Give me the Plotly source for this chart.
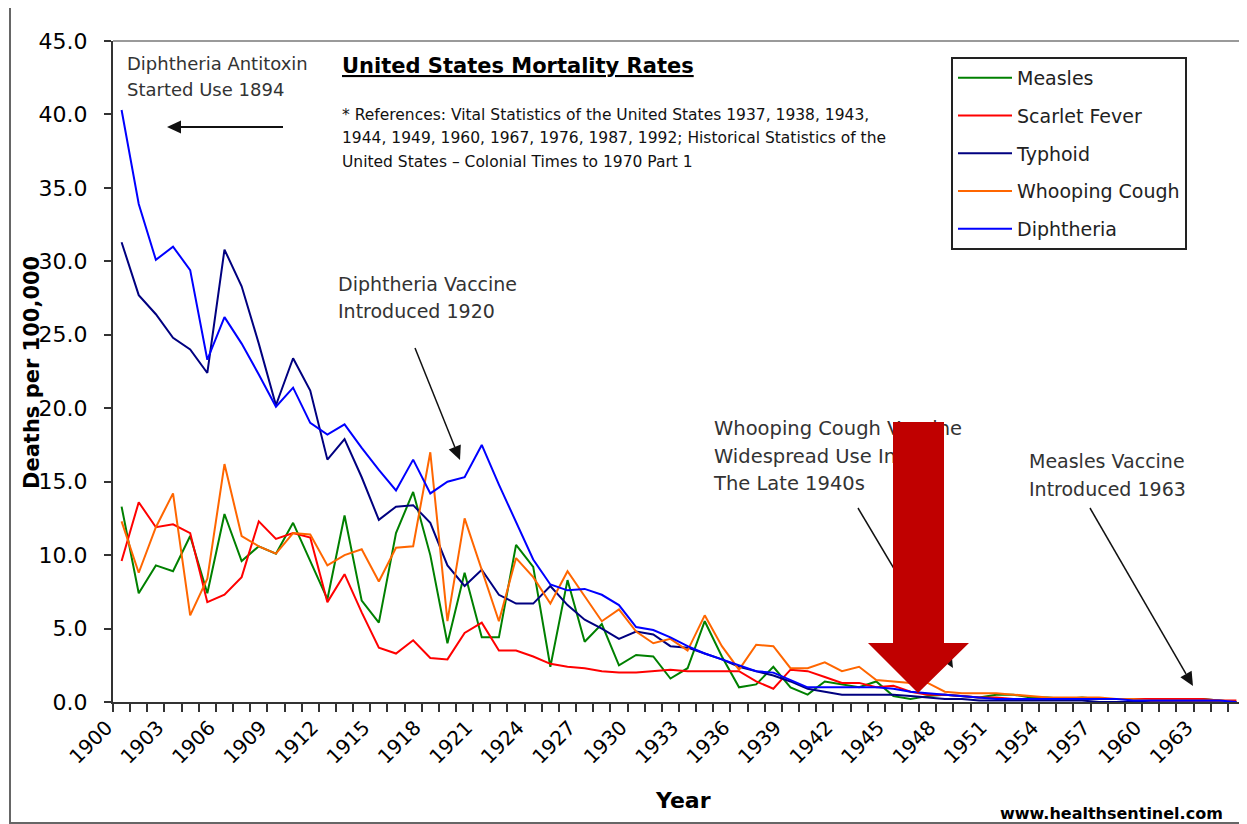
import math
import plotly.graph_objects as go

years = list(range(1900, 1966))

measles = [13.3, 7.4, 9.3, 8.9, 11.3, 7.4, 12.8, 9.6, 10.6, 10.1,
           12.2, 9.6, 7.0, 12.7, 6.9, 5.4, 11.5, 14.3, 10.0, 4.0,
           8.8, 4.4, 4.4, 10.7, 9.2, 2.4, 8.3, 4.1, 5.3, 2.5,
           3.2, 3.1, 1.6, 2.3, 5.5, 3.1, 1.0, 1.2, 2.4, 1.0,
           0.5, 1.4, 1.2, 1.0, 1.4, 0.4, 0.2, 0.4, 0.5, 0.4,
           0.3, 0.5, 0.5, 0.3, 0.3, 0.2, 0.3, 0.2, 0.2, 0.2,
           0.2, 0.2, 0.2, 0.2, 0.1, 0.0]

scarlet_fever = [9.6, 13.6, 11.9, 12.1, 11.5, 6.8, 7.3, 8.5, 12.3, 11.1,
                 11.5, 11.2, 6.8, 8.7, 6.1, 3.7, 3.3, 4.2, 3.0, 2.9,
                 4.7, 5.4, 3.5, 3.5, 3.1, 2.6, 2.4, 2.3, 2.1, 2.0,
                 2.0, 2.1, 2.2, 2.1, 2.1, 2.1, 2.1, 1.4, 0.9, 2.2,
                 2.1, 1.7, 1.3, 1.3, 1.0, 1.1, 0.7, 0.5, 0.5, 0.4,
                 0.3, 0.3, 0.2, 0.2, 0.2, 0.2, 0.2, 0.2, 0.2, 0.2,
                 0.2, 0.2, 0.2, 0.2, 0.1, 0.1]

typhoid = [31.3, 27.7, 26.4, 24.8, 24.0, 22.4, 30.8, 28.3, 24.4, 20.2,
           23.4, 21.2, 16.5, 17.9, 15.3, 12.4, 13.3, 13.4, 12.2, 9.3,
           7.9, 9.0, 7.3, 6.7, 6.7, 7.9, 6.6, 5.6, 5.0, 4.3,
           4.8, 4.6, 3.8, 3.7, 3.3, 2.9, 2.4, 2.1, 1.8, 1.4,
           0.9, 0.7, 0.5, 0.5, 0.5, 0.5, 0.4, 0.3, 0.2, 0.2,
           0.1, 0.1, 0.1, 0.1, 0.1, 0.1, 0.1, 0.0, 0.0, 0.0,
           0.0, 0.0, 0.0, 0.0, 0.0, 0.0]

whooping_cough = [12.3, 8.8, 11.9, 14.2, 5.9, 8.4, 16.2, 11.3, 10.6, 10.1,
                  11.5, 11.4, 9.3, 10.0, 10.4, 8.2, 10.5, 10.6, 17.0, 5.5,
                  12.5, 9.0, 5.5, 9.8, 8.5, 6.7, 8.9, 7.2, 5.5, 6.3,
                  4.8, 4.0, 4.3, 3.5, 5.9, 3.8, 2.2, 3.9, 3.8, 2.3,
                  2.3, 2.7, 2.1, 2.4, 1.5, 1.4, 1.3, 1.3, 0.7, 0.6,
                  0.6, 0.6, 0.5, 0.4, 0.3, 0.3, 0.3, 0.3, 0.2, 0.2,
                  0.1, 0.1, 0.1, 0.1, 0.1, 0.0]

diphtheria = [40.3, 33.9, 30.1, 31.0, 29.4, 23.3, 26.2, 24.4, 22.3, 20.1,
              21.4, 19.0, 18.2, 18.9, 17.3, 15.8, 14.4, 16.5, 14.2, 15.0,
              15.3, 17.5, 14.8, 12.2, 9.7, 8.0, 7.6, 7.7, 7.3, 6.6,
              5.1, 4.9, 4.4, 3.8, 3.3, 2.9, 2.5, 2.1, 2.0, 1.5,
              1.0, 1.0, 1.0, 1.0, 1.0, 0.9, 0.7, 0.6, 0.5, 0.4,
              0.3, 0.2, 0.2, 0.2, 0.2, 0.2, 0.2, 0.2, 0.2, 0.1,
              0.1, 0.1, 0.1, 0.1, 0.1, 0.0]

series_names = ["Measles", "Scarlet Fever", "Typhoid", "Whooping Cough", "Diphtheria"]
series_colors = ["#008000", "#FF0000", "#000080", "#FF6600", "#0000FF"]
series_values = [measles, scarlet_fever, typhoid, whooping_cough, diphtheria]

tick_years = list(range(1900, 1964, 3))
y_ticks = [0, 5, 10, 15, 20, 25, 30, 35, 40, 45]
X_RANGE = [1899.5, 1965.5]
Y_RANGE = [0, 45]

# page body has an 8px margin; lay out in screen pixels and convert
OFF = 8
W, H = 1247 - OFF, 824 - OFF
L = 113 - OFF
T = 41 - OFF
R = W - (1245 - OFF)
B = H - (702 - OFF)
PW = W - L - R
PH = H - T - B


def px(xs):
    return (xs - OFF - L) / PW


def py(ys):
    return (H - B - (ys - OFF)) / PH


def xd(xs):
    return X_RANGE[0] + px(xs) * (X_RANGE[1] - X_RANGE[0])


def yd(ys):
    return Y_RANGE[0] + py(ys) * (Y_RANGE[1] - Y_RANGE[0])


FONT = "DejaVu Sans"
txt_color = "#333333"

fig = go.Figure()
for name, color, vals in zip(series_names, series_colors, series_values):
    fig.add_trace(go.Scatter(x=years, y=vals, name=name, mode="lines",
                             line=dict(color=color, width=2),
                             legendgroup=name))

# the whooping-cough note sits beneath the big red arrow, so it is drawn as a
# text trace (below the shape layer) rather than as an annotation
wc_lines = [(714, 430, "Whooping Cough Vaccine"),
            (714, 458, "Widespread Use In"),
            (714, 485, "The Late 1940s")]
fig.add_trace(go.Scatter(x=[xd(a) for a, b, s in wc_lines],
                         y=[yd(b) for a, b, s in wc_lines],
                         text=[s for a, b, s in wc_lines],
                         mode="text", textposition="middle right",
                         textfont=dict(family=FONT, size=19.5, color=txt_color),
                         showlegend=False, hoverinfo="skip", cliponaxis=False))

annotations = []


def text(xs, ys, s, size=18, color=txt_color, family=FONT, xanchor="left"):
    annotations.append(dict(x=px(xs), y=py(ys), xref="paper", yref="paper",
                            text=s, showarrow=False, xanchor=xanchor,
                            yanchor="middle",
                            font=dict(size=size, color=color, family=family)))


shapes = []


def arrow(hx, hy, tx, ty, width=1.5, head_len=14, head_half=6.5):
    dx, dy = hx - tx, hy - ty
    n = math.hypot(dx, dy)
    ux, uy = dx / n, dy / n
    bx, by = hx - ux * head_len, hy - uy * head_len
    shapes.append(dict(type="line", xref="paper", yref="paper",
                       x0=px(tx), y0=py(ty), x1=px(bx), y1=py(by),
                       line=dict(color="#111111", width=width), layer="above"))
    tri = [(hx, hy), (bx - uy * head_half, by + ux * head_half),
           (bx + uy * head_half, by - ux * head_half)]
    p = "M " + " L ".join(f"{px(a):.5f},{py(b):.5f}" for a, b in tri) + " Z"
    shapes.append(dict(type="path", path=p, xref="paper", yref="paper",
                       fillcolor="#111111", line=dict(width=0), layer="above"))


text(125, 63, "Diphtheria Antitoxin")
text(125, 90, "Started Use 1894")
arrow(167, 127, 283, 127, width=2)

text(340, 66, "<b><u>United States Mortality Rates</u></b>", size=21, color="#000000")
ref_font = dict(size=15.5, color="#111111", family=FONT)
text(340, 115, "* References: Vital Statistics of the United States 1937, 1938, 1943,",
     **ref_font)
text(340, 138, "1944, 1949, 1960, 1967, 1976, 1987, 1992; Historical Statistics of the",
     **ref_font)
text(340, 162, "United States \u2013 Colonial Times to 1970 Part 1", **ref_font)

text(336, 284, "Diphtheria Vaccine", size=19)
text(336, 311, "Introduced 1920", size=19)
arrow(460, 460, 415, 348)

arrow(953, 668, 858, 508)

text(1027, 461, "Measles Vaccine", size=19)
text(1027, 489, "Introduced 1963", size=19)
arrow(1193, 686, 1090, 508)

# axis titles
annotations.append(dict(x=px(32), y=py(373), xref="paper", yref="paper",
                        text="<b>Deaths per 100,000</b>", showarrow=False,
                        textangle=-90, xanchor="center", yanchor="middle",
                        font=dict(size=21, color="#000000", family=FONT)))
text(683, 800, "<b>Year</b>", size=22, color="#000000", xanchor="center")
text(1225, 814, "<b>www.healthsentinel.com</b>", size=16, color="#000000",
     xanchor="right")

# big red arrow (drawn last so it covers the note and the thin arrow)
pts = [(893, 422), (944, 422), (944, 643), (969, 643), (918, 693), (868, 643), (893, 643)]
path = "M " + " L ".join(f"{px(a):.5f},{py(b):.5f}" for a, b in pts) + " Z"

shapes += [
    dict(type="path", path=path, xref="paper", yref="paper",
         fillcolor="#C00000", line=dict(width=0), layer="above"),
    # plot area top / right border
    dict(type="line", xref="paper", yref="paper", x0=0, x1=1, y0=1, y1=1,
         line=dict(color="#9a9a9a", width=2), layer="below"),
    dict(type="line", xref="paper", yref="paper", x0=1, x1=1, y0=0, y1=1,
         line=dict(color="#bbbbbb", width=1.5), layer="below"),
    # outer chart border
    dict(type="rect", xref="paper", yref="paper",
         x0=px(10), x1=px(1262), y0=py(823), y1=py(5),
         line=dict(color="#666666", width=2), layer="below"),
]

fig.update_layout(
    width=W, height=H,
    margin=dict(l=L, r=R, t=T, b=B, pad=0),
    paper_bgcolor="white", plot_bgcolor="white",
    showlegend=True,
    legend=dict(x=px(951), y=py(57), xanchor="left", yanchor="top",
                bgcolor="white", bordercolor="#222222", borderwidth=2,
                font=dict(family=FONT, size=19, color="#222222"),
                tracegroupgap=10, itemwidth=54, traceorder="grouped"),
    annotations=annotations,
    shapes=shapes,
    xaxis=dict(range=X_RANGE, tickmode="array",
               tickvals=tick_years,
               ticktext=[str(y) for y in tick_years], tickangle=-45,
               ticks="outside", ticklen=0, tickcolor="#333333",
               ticklabelstandoff=4, ticklabelshift=-15,
               tickfont=dict(family=FONT, size=20, color="#000000"),
               showgrid=False, zeroline=False, showline=True,
               linecolor="#333333", linewidth=2,
               minor=dict(tickmode="linear", tick0=1899.5, dtick=1,
                          ticks="outside", ticklen=8, tickwidth=2,
                          tickcolor="#333333", showgrid=False)),
    yaxis=dict(range=Y_RANGE, tickmode="array", tickvals=y_ticks,
               ticktext=[f"{v:.1f}" for v in y_ticks],
               ticks="outside", ticklen=7, tickwidth=2, tickcolor="#333333",
               ticklabelstandoff=12,
               tickfont=dict(family=FONT, size=22, color="#000000"),
               showgrid=False, zeroline=False, showline=True,
               linecolor="#333333", linewidth=2),
)

fig.write_html("out.html")
